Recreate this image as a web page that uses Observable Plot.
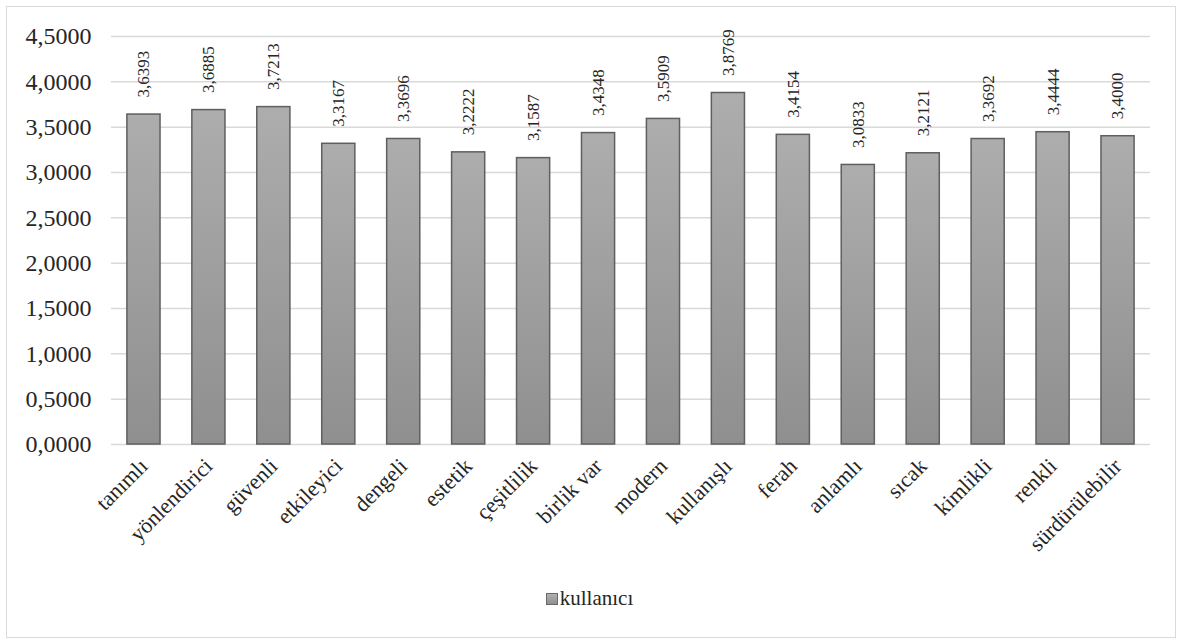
<!DOCTYPE html>
<html><head><meta charset="utf-8">
<script src="https://cdn.jsdelivr.net/npm/d3@7"></script>
<script src="https://cdn.jsdelivr.net/npm/@observablehq/plot@0.6"></script>
<style>
body{margin:0;background:#fff;font-family:"Liberation Serif","DejaVu Serif",serif;}
#frame{position:absolute;left:6px;top:6px;width:1170px;height:632px;border:1px solid #d9d9d9;box-sizing:border-box;}
#chart{position:absolute;left:0;top:0;}
#chart svg{font-family:"Liberation Serif","DejaVu Serif",serif;}
#legend{position:absolute;top:586px;left:0;width:1179px;text-align:center;font-size:21px;color:#262626;}
#legend .sw{display:inline-block;width:10px;height:10px;border:1.5px solid #6a6a6a;background:linear-gradient(#b0b0b0,#909090);margin-right:2px;vertical-align:0px;}
</style></head><body>
<div id="frame"></div>
<div id="chart"></div>
<div id="legend"><span class="sw"></span><span id="lt"></span></div>
<script>
const categories = ["tanımlı","yönlendirici","güvenli","etkileyici","dengeli","estetik","çeşitlilik","birlik var","modern","kullanışlı","ferah","anlamlı","sıcak","kimlikli","renkli","sürdürülebilir"];
const values = [3.6393,3.6885,3.7213,3.3167,3.3696,3.2222,3.1587,3.4348,3.5909,3.8769,3.4154,3.0833,3.2121,3.3692,3.4444,3.4000];
const yTicks = [0,0.5,1,1.5,2,2.5,3,3.5,4,4.5];
const seriesName = "kullanıcı";

const data = categories.map((c,i)=>({cat:c, v:values[i]}));
const fmt = v => v.toFixed(4).replace(".", ",");

function defs(){
  const ns="http://www.w3.org/2000/svg";
  const d=document.createElementNS(ns,"defs");
  const g=document.createElementNS(ns,"linearGradient");
  g.setAttribute("id","barGrad");g.setAttribute("x1","0");g.setAttribute("y1","0");g.setAttribute("x2","0");g.setAttribute("y2","1");
  [["0%","#adadad"],["100%","#8f8f8f"]].forEach(([o,c])=>{const s=document.createElementNS(ns,"stop");s.setAttribute("offset",o);s.setAttribute("stop-color",c);g.appendChild(s);});
  d.appendChild(g);
  return d;
}

const chart = Plot.plot({
  width:1179, height:560,
  marginLeft:111, marginRight:29, marginTop:36, marginBottom:116,
  style:{color:"#262626", background:"transparent"},
  x:{domain:categories, paddingInner:0.49, paddingOuter:0.245, round:false, label:null},
  y:{domain:[0,4.5], label:null},
  marks:[
    defs,
    Plot.gridY(yTicks,{stroke:"#d9d9d9", strokeOpacity:1, strokeWidth:1.5}),
    Plot.barY(data,{x:"cat", y:"v", fill:"url(#barGrad)", stroke:"#5f5f5f", strokeWidth:1.5}),
    Plot.text(data,{x:"cat", y:"v", text:d=>fmt(d.v), rotate:-90, textAnchor:"start", dy:-17, fontSize:17, fill:"#262626"}),
    Plot.axisY({ticks:yTicks, tickFormat:fmt, tickSize:0, tickPadding:20, fontSize:24, label:null}),
    Plot.axisX({tickSize:0, tickRotate:-45, tickPadding:18, fontSize:22, label:null})
  ]
});
document.getElementById("chart").appendChild(chart);
document.getElementById("lt").textContent = seriesName;
</script>
</body></html>
